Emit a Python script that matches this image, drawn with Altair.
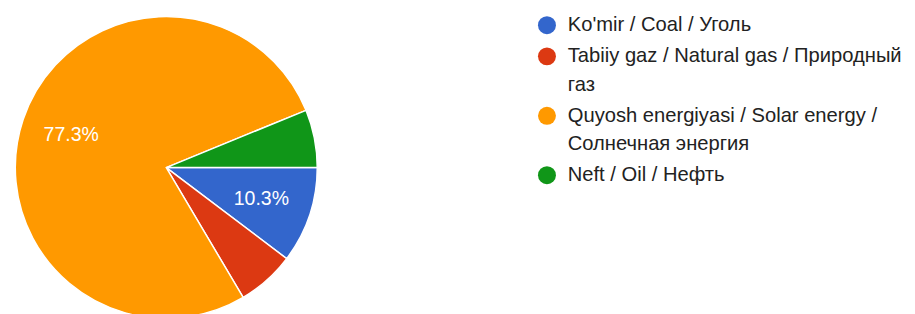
import math
import altair as alt
import pandas as pd

categories = [
    "Ko'mir / Coal / Уголь",
    "Tabiiy gaz / Natural gas / Природный|газ",
    "Quyosh energiyasi / Solar energy /|Солнечная энергия",
    "Neft / Oil / Нефть",
]
counts = [10, 6, 75, 6]
colors = ["#3366CC", "#DC3912", "#FF9900", "#109618"]
shown_labels = ["10.3%", "", "77.3%", ""]

df = pd.DataFrame({
    "category": categories,
    "count": counts,
    "idx": list(range(len(categories))),
    "label": shown_labels,
})

theta_scale = alt.Scale(range=[math.pi / 2, math.pi / 2 + 2 * math.pi])

base = alt.Chart(df).encode(
    theta=alt.Theta("count:Q", stack=True, scale=theta_scale),
    order=alt.Order("idx:Q"),
)

arcs = base.mark_arc(stroke="white", strokeWidth=1.5, radius=155).encode(
    color=alt.Color(
        "category:N",
        sort=categories,
        scale=alt.Scale(domain=categories, range=colors),
        legend=alt.Legend(
            title=None,
            orient="none",
            legendX=533,
            legendY=-4,
            symbolType="circle",
            symbolSize=340,
            symbolStrokeWidth=0,
            labelFontSize=20.7,
            labelFont="Liberation Sans",
            labelColor="#222222",
            labelLimit=450,
            labelOffset=11,
            rowPadding=10,
            labelExpr="split(datum.label, '|')",
        ),
    )
)

texts = base.mark_text(
    radius=103, fontSize=20, font="Liberation Sans", color="white"
).encode(text="label:N")

chart = (
    (arcs + texts)
    .properties(
        width=305,
        height=305,
        padding={"left": 4, "top": 1, "right": 5, "bottom": 5},
    )
    .configure(style={"guide-label": {"lineHeight": 29.5}})
    .configure_view(stroke=None)
)

chart.save("out.html", embed_options={"renderer": "svg", "actions": False})
